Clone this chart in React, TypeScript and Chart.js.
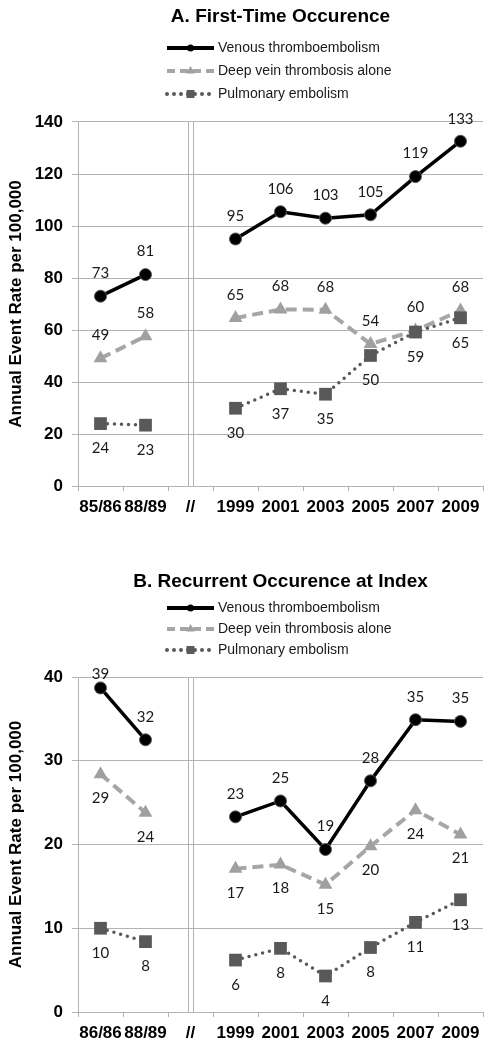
import React, { useEffect, useRef } from "react";
import { Chart, registerables } from "chart.js";

Chart.register(...registerables);

// ---------- Data ----------
const topCategories = ["85/86", "88/89", "//", "1999", "2001", "2003", "2005", "2007", "2009"];
const bottomCategories = ["86/86", "88/89", "//", "1999", "2001", "2003", "2005", "2007", "2009"];

const seriesNames = ["Venous thromboembolism", "Deep vein thrombosis alone", "Pulmonary embolism"];

const topVTE = [73, 81.3, null, 95, 105.5, 103, 104.3, 119, 132.6];
const topVTELabels = ["73", "81", "", "95", "106", "103", "105", "119", "133"];
const topDVT = [49.1, 57.6, null, 64.6, 67.9, 67.8, 54.6, 59.8, 67.5];
const topDVTLabels = ["49", "58", "", "65", "68", "68", "54", "60", "68"];
const topPE = [24, 23.4, null, 29.9, 37.4, 35.3, 50.2, 59.2, 64.7];
const topPELabels = ["24", "23", "", "30", "37", "35", "50", "59", "65"];

const botVTE = [38.7, 32.5, null, 23.3, 25.2, 19.4, 27.6, 34.9, 34.7];
const botVTELabels = ["39", "32", "", "23", "25", "19", "28", "35", "35"];
const botDVT = [28.4, 23.8, null, 17.1, 17.6, 15.2, 19.8, 24.1, 21.2];
const botDVTLabels = ["29", "24", "", "17", "18", "15", "20", "24", "21"];
const botPE = [10.0, 8.4, null, 6.2, 7.6, 4.3, 7.7, 10.7, 13.4];
const botPELabels = ["10", "8", "", "6", "8", "4", "8", "11", "13"];

const yTitle = "Annual Event Rate per 100,000";

// ---------- Styles ----------
const GRID = "#b3b3b3";
const SANS = "'Liberation Sans', Arial, sans-serif";

function makeDatasets(vte, vteL, dvt, dvtL, pe, peL, offs) {
  return [
    {
      label: seriesNames[0],
      data: vte,
      valueLabels: vteL,
      labelOffset: offs[0],
      borderColor: "#000000",
      backgroundColor: "#000000",
      borderWidth: 3.5,
      pointStyle: "circle",
      pointRadius: 6,
      pointBackgroundColor: "#000000",
      pointBorderColor: "#555555",
      pointBorderWidth: 1,
      order: 0,
    },
    {
      label: seriesNames[1],
      data: dvt,
      valueLabels: dvtL,
      labelOffset: offs[1],
      borderColor: "#a6a6a6",
      backgroundColor: "#a6a6a6",
      borderWidth: 4,
      borderDash: [11, 6],
      pointStyle: "triangle",
      pointRadius: 8,
      pointBackgroundColor: "#a0a0a0",
      pointBorderColor: "#a0a0a0",
      pointBorderWidth: 0,
      order: 2,
    },
    {
      label: seriesNames[2],
      data: pe,
      valueLabels: peL,
      labelOffset: offs[2],
      borderColor: "#595959",
      backgroundColor: "#595959",
      borderWidth: 3.5,
      borderDash: [0, 7],
      borderCapStyle: "round",
      pointStyle: "rect",
      pointRadius: 9,
      pointBackgroundColor: "#595959",
      pointBorderColor: "#595959",
      pointBorderWidth: 0,
      order: 1,
    },
  ];
}

// ---------- Plugins ----------
const valueLabelPlugin = {
  id: "valueLabels",
  afterDatasetsDraw(chart) {
    const ctx = chart.ctx;
    ctx.save();
    ctx.font = "15px Lato, 'Open Sans', sans-serif";
    ctx.fillStyle = "#1a1a1a";
    ctx.textAlign = "center";
    ctx.textBaseline = "middle";
    chart.data.datasets.forEach((ds, i) => {
      const meta = chart.getDatasetMeta(i);
      const texts = ds.valueLabels || [];
      meta.data.forEach((pt, j) => {
        const t = texts[j];
        if (!t) return;
        let y = pt.y + ds.labelOffset;
        if (y < chart.chartArea.top - 3) y = chart.chartArea.top - 3;
        ctx.fillText(t, pt.x, y);
      });
    });
    ctx.restore();
  },
};

const breakPlugin = {
  id: "axisBreak",
  beforeDatasetsDraw(chart) {
    const xs = chart.scales.x;
    const { top, bottom } = chart.chartArea;
    const cx = xs.getPixelForValue(2);
    const ctx = chart.ctx;
    ctx.save();
    ctx.strokeStyle = GRID;
    ctx.lineWidth = 1;
    [cx - 2.5, cx + 2.5].forEach((x) => {
      const px = Math.round(x) + 0.5;
      ctx.beginPath();
      ctx.moveTo(px, top);
      ctx.lineTo(px, bottom);
      ctx.stroke();
    });
    ctx.restore();
  },
};

function drawMarker(ctx, style, x, y, r, color) {
  ctx.fillStyle = color;
  ctx.beginPath();
  if (style === "circle") {
    ctx.arc(x, y, r, 0, Math.PI * 2);
  } else if (style === "triangle") {
    ctx.moveTo(x, y - r);
    ctx.lineTo(x + r * 0.866, y + r * 0.5);
    ctx.lineTo(x - r * 0.866, y + r * 0.5);
    ctx.closePath();
  } else {
    ctx.rect(x - r, y - r, 2 * r, 2 * r);
  }
  ctx.fill();
}

const lineLegendPlugin = {
  id: "lineLegend",
  afterDraw(chart, args, opts) {
    const ctx = chart.ctx;
    const { x0, x1, textX, ys } = opts;
    ctx.save();
    chart.data.datasets.forEach((ds, i) => {
      const y = ys[i];
      ctx.strokeStyle = ds.borderColor;
      ctx.lineWidth = i === 0 ? 4 : 4;
      ctx.lineCap = ds.borderCapStyle || "butt";
      ctx.setLineDash(i === 1 ? [8, 5] : ds.borderDash || []);
      ctx.beginPath();
      ctx.moveTo(x0, y);
      ctx.lineTo(x1, y);
      ctx.stroke();
      ctx.setLineDash([]);
      const mx = (x0 + x1) / 2;
      const sizes = [3.5, 5, 4];
      drawMarker(ctx, ds.pointStyle, mx, y, sizes[i], ds.pointBackgroundColor);
      ctx.fillStyle = "#1a1a1a";
      ctx.font = "14px " + SANS;
      ctx.textAlign = "left";
      ctx.textBaseline = "middle";
      ctx.fillText(ds.label, textX, y);
    });
    ctx.restore();
  },
};

// ---------- Chart panel ----------
function LinePanel({ categories, datasets, title, titlePad, yMax, yStep, xHeight, legendYs, width, height }) {
  const ref = useRef(null);
  useEffect(() => {
    const chart = new Chart(ref.current, {
      type: "line",
      data: { labels: categories, datasets },
      plugins: [breakPlugin, valueLabelPlugin, lineLegendPlugin],
      options: {
        animation: false,
        responsive: false,
        devicePixelRatio: 1,
        layout: { padding: { left: 0, right: 10, top: 0, bottom: 0 } },
        elements: { line: { tension: 0 } },
        plugins: {
          legend: { display: false },
          tooltip: { enabled: false },
          title: {
            display: true,
            text: title,
            fullSize: false,
            color: "#000000",
            font: { family: SANS, size: 19, weight: "bold" },
            padding: titlePad,
          },
          lineLegend: { x0: 167, x1: 214, textX: 218, ys: legendYs },
        },
        scales: {
          x: {
            type: "category",
            offset: true,
            grid: {
              display: true,
              offset: true,
              drawOnChartArea: false,
              drawTicks: true,
              tickLength: 5,
              color: GRID,
            },
            border: { display: true, color: GRID },
            ticks: {
              color: "#000000",
              font: { family: SANS, size: 17, weight: "bold" },
              padding: 6,
              maxRotation: 0,
              autoSkip: false,
            },
            afterFit(scale) {
              scale.height = xHeight;
            },
          },
          y: {
            min: 0,
            max: yMax,
            grid: { color: GRID, tickLength: 6, drawTicks: true },
            border: { display: true, color: GRID },
            ticks: {
              stepSize: yStep,
              color: "#000000",
              font: { family: SANS, size: 17, weight: "bold" },
              padding: 9,
            },
            title: {
              display: true,
              text: yTitle,
              color: "#000000",
              font: { family: SANS, size: 17, weight: "bold" },
              padding: { top: 6, bottom: 0 },
            },
            afterFit(scale) {
              scale.width = 78;
            },
          },
        },
      },
    });
    return () => chart.destroy();
  }, []);
  return <canvas ref={ref} width={width} height={height} style={{ display: "block" }} />;
}

export default function App() {
  const topSets = makeDatasets(topVTE, topVTELabels, topDVT, topDVTLabels, topPE, topPELabels, [-23, -23, 25]);
  const botSets = makeDatasets(botVTE, botVTELabels, botDVT, botDVTLabels, botPE, botPELabels, [-23, 24, 25]);
  return (
    <div style={{ position: "absolute", left: 0, top: 0, width: 493, height: 1050, background: "#ffffff" }}>
      <div style={{ position: "absolute", left: 0, top: 0 }}>
        <LinePanel
          categories={topCategories}
          datasets={topSets}
          title="A. First-Time Occurence"
          titlePad={{ top: 5.6, bottom: 93.6 }}
          yMax={140}
          yStep={20}
          xHeight={40}
          legendYs={[48, 71, 94]}
          width={493}
          height={526}
        />
      </div>
      <div style={{ position: "absolute", left: 0, top: 524 }}>
        <LinePanel
          categories={bottomCategories}
          datasets={botSets}
          title="B. Recurrent Occurence at Index"
          titlePad={{ top: 46, bottom: 84.2 }}
          yMax={40}
          yStep={10}
          xHeight={38}
          legendYs={[84, 105, 126]}
          width={493}
          height={526}
        />
      </div>
    </div>
  );
}
